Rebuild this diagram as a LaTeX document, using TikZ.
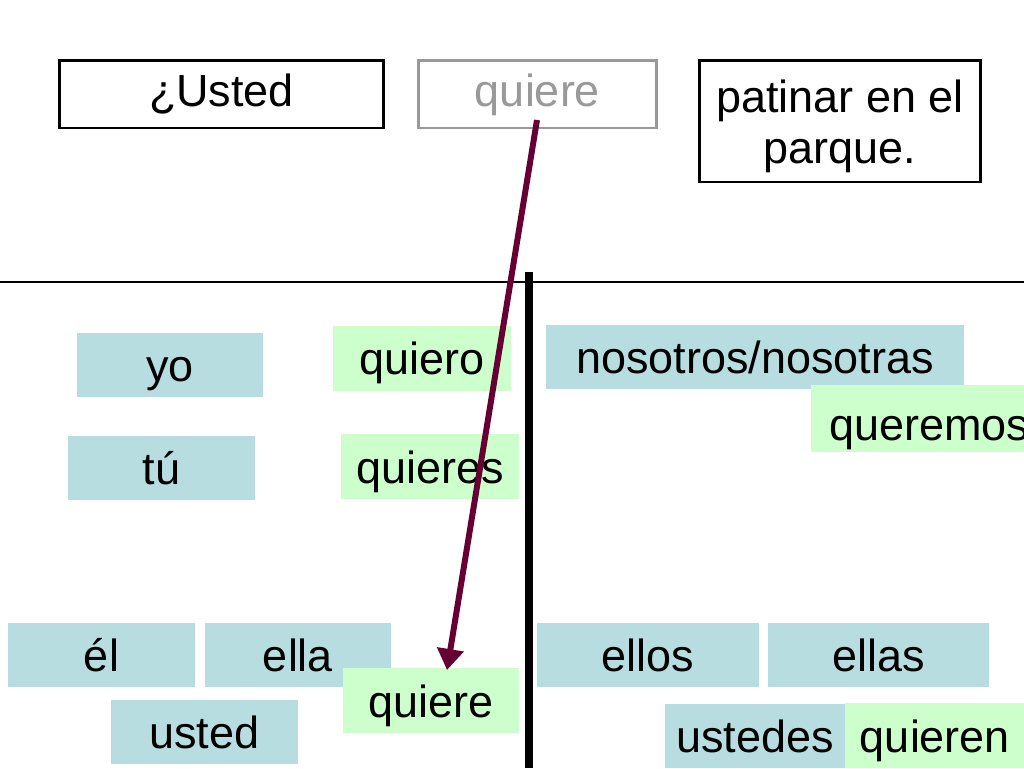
\documentclass[tikz,border=0pt]{standalone}
\usepackage{fontspec}
\setmainfont{Liberation Sans}
\usetikzlibrary{arrows.meta}
\definecolor{azul}{RGB}{183,221,224}
\definecolor{verde}{RGB}{204,255,204}
\definecolor{vino}{RGB}{102,0,51}
\definecolor{gris}{RGB}{153,153,153}

\begin{document}
\begin{tikzpicture}[
  x=0.02cm, y=-0.02cm,
  every node/.style={inner sep=0pt, font=\fontsize{25.6}{29}\selectfont, text height=0.84cm, text depth=0.18cm},
  frase/.style={draw, line width=1.7pt, minimum height=1.36cm, text height=0.66cm},
  pron/.style={fill=azul, minimum height=1.28cm},
  verbo/.style={fill=verde, minimum height=1.3cm},
  flecha/.style={draw=vino, line width=3.4pt, -{Triangle[length=0.42cm, width=0.52cm]}}
]
\useasboundingbox (0,0) rectangle (1024,768);
\clip (0,0) rectangle (1024,768);

% frase de arriba
\node[frase, minimum width=6.5cm] (usted0) at (221.5,94) {¿Usted};
\node[frase, draw=gris, text=gris, minimum width=4.78cm] (quiere0) at (537.5,94) {quiere};
\node[draw, line width=1.7pt, align=center, text height=, text depth=, minimum width=5.64cm, minimum height=2.44cm] (patinar) at (840,121) {\rule{0pt}{0.86cm}patinar en el\\parque.};

% separadores
\coordinate (hizq) at (0,282);
\coordinate (hder) at (1024,282);
\draw[line width=0.6pt] (hizq) -- (hder);
\coordinate (varr) at (529,272);
\coordinate (vab) at (529,768);
\draw[line width=4pt] (varr) -- (vab);

% pronombres
\node[pron, minimum width=3.72cm] (yo) at (170,365) {yo};
\node[pron, minimum width=3.74cm] (tu) at (161.5,467.5) {tú};
\node[pron, minimum width=3.74cm] (el) at (101.5,655) {él};
\node[pron, minimum width=3.72cm] (ella) at (298,655) {ella};
\node[pron, minimum width=3.74cm] (usted) at (204.5,732) {usted};
\node[pron, minimum width=8.36cm] (nosotros) at (755,356.5) {nosotros/nosotras};
\node[pron, minimum width=4.44cm] (ellos) at (648,655) {ellos};
\node[pron, minimum width=4.42cm] (ellas) at (878.5,655) {ellas};
\node[pron, minimum width=3.6cm] (ustedes) at (755,735.5) {ustedes};

% formas del verbo
\node[verbo, minimum width=3.56cm] (quiero) at (422,358) {quiero};
\node[verbo, minimum width=3.56cm] (quieres) at (430,466.5) {quieres};
\node[verbo, minimum width=3.54cm] (quiere) at (431,700.5) {quiere};
\node[verbo, minimum width=4.72cm, minimum height=1.34cm, text height=1.04cm] (queremos) at (929,418.5) {queremos};
\node[verbo, minimum width=3.6cm] (quieren) at (935,735.5) {quieren};

\coordinate (ini) at (537,120);
\coordinate (fin) at (447,670);
\draw[flecha] (ini) -- (fin);
\end{tikzpicture}
\end{document}
